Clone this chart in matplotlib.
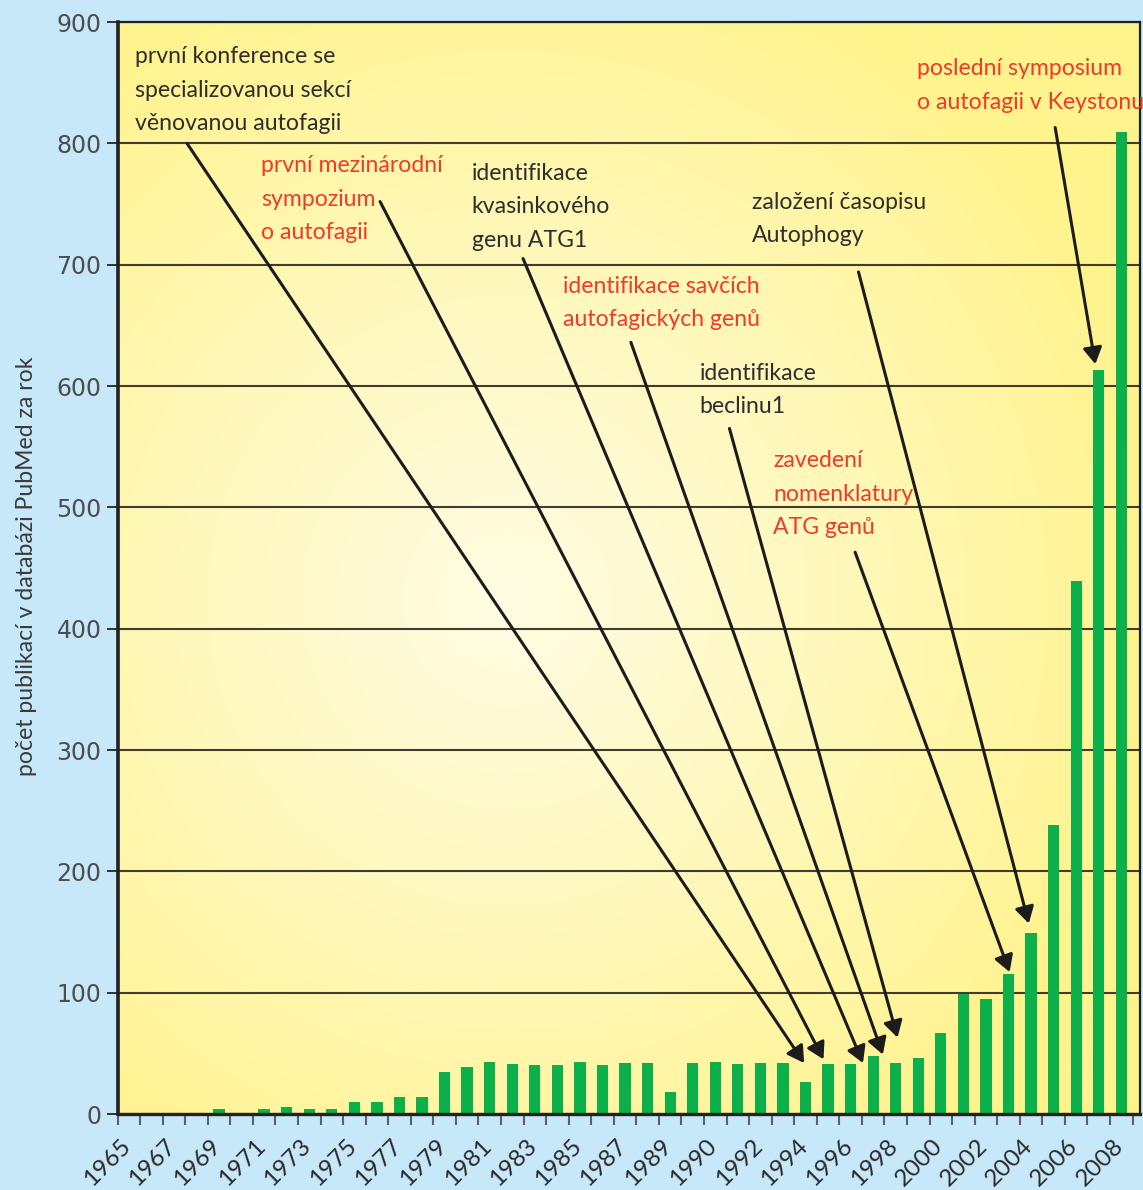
import numpy as np
import matplotlib
matplotlib.use("Agg")
import matplotlib.pyplot as plt
from matplotlib.patches import FancyArrowPatch
from matplotlib.transforms import ScaledTranslation

# Publications per year, one value per category slot on the x axis
counts = [0, 0, 0, 0, 4, 0, 4, 6, 4, 4,
          10, 10, 14, 14, 35, 39, 43, 41, 40, 40,
          43, 40, 42, 42, 18, 42, 43, 41, 42, 42,
          26, 41, 41, 48, 42, 46, 67, 99, 95, 115,
          149, 238, 439, 613, 809]

# Labels shown under every second slot
year_labels = ["1965", "1967", "1969", "1971", "1973", "1975", "1977",
               "1979", "1981", "1983", "1985", "1987", "1989", "1990",
               "1992", "1994", "1996", "1998", "2000", "2002", "2004",
               "2006", "2008"]

y_ticks = [0, 100, 200, 300, 400, 500, 600, 700, 800, 900]

# Milestone notes: text lines, colour, first-baseline position (slot, count)
note_lines = [
    ["první konference se", "specializovanou sekcí", "věnovanou autofagii"],
    ["první mezinárodní", "sympozium", "o autofagii"],
    ["identifikace", "kvasinkového", "genu ATG1"],
    ["identifikace savčích", "autofagických genů"],
    ["identifikace", "beclinu1"],
    ["zavedení", "nomenklatury", "ATG genů"],
    ["založení časopisu", "Autophogy"],
    ["poslední symposium", "o autofagii v Keystonu"],
]
note_red = [False, True, False, True, False, True, False, True]
note_pos = [(0.28, 866), (5.86, 776), (15.21, 770), (19.27, 677),
            (25.3, 605), (28.58, 533), (27.62, 746), (34.93, 856)]
# Arrow from each note (tail) down to the bar it refers to (tip)
arrow_tail = [(2.58, 800), (11.14, 752), (17.48, 705), (22.26, 636),
              (26.63, 565), (32.2, 463), (32.35, 694), (41.07, 813)]
arrow_tip = [(29.94, 42), (30.8, 45), (32.55, 42), (33.43, 49),
             (34.08, 63), (39.05, 117), (39.9, 157), (42.85, 618)]

ylabel = "počet publikací v databázi PubMed za rok"

FONT = ["Lato", "DejaVu Sans"]

W, H = 1143, 1190
fig = plt.figure(figsize=(W / 100, H / 100), dpi=100, facecolor="#c6e8f8")
ax = fig.add_axes([117.5 / W, 1 - 1114 / H, (1140 - 117.5) / W, (1114 - 22) / H])
ax.set_facecolor("none")

# soft radial glow behind the plot
nx = ny = 400
xx, yy = np.meshgrid(np.linspace(0, 1, nx), np.linspace(0, 1, ny))
d = np.sqrt(((xx - 0.38) / 0.65) ** 2 + ((yy - 0.47) / 0.62) ** 2)
t = np.clip(d, 0, 1) ** 1.1
pale = np.array([255, 252, 226]) / 255
deep = np.array([255, 243, 142]) / 255
img = pale * (1 - t[..., None]) + deep * t[..., None]
ax.imshow(img, extent=[0, 1, 0, 1], transform=ax.transAxes, origin="lower",
          aspect="auto", zorder=0, interpolation="bilinear")

slots = np.arange(len(counts))
ax.bar(slots, counts, width=0.5, color="#0cb04a", zorder=2)

ax.set_xlim(-0.5, 44.83)
ax.set_ylim(0, 900)
ax.set_aspect("auto")

# y axis
ax.set_yticks(y_ticks)
ax.set_yticklabels([str(v) for v in y_ticks], fontfamily="DejaVu Sans",
                   fontsize=17, color="#4d4d4d")
ax.tick_params(axis="y", length=7.6, width=1.4, color="#333333", pad=4)
ax.grid(axis="y", color="#403d2f", lw=1.5)
ax.set_axisbelow(True)
for g in ax.get_ygridlines():
    g.set_zorder(1)

# x axis: labels on every second slot, ticks at slot boundaries
ax.set_xticks(slots[::2][:len(year_labels)])
ax.set_xticklabels(year_labels, rotation=45, ha="right", va="top",
                   rotation_mode="anchor", fontfamily=FONT,
                   fontsize=17.5, color="#2a2a2a")
ax.tick_params(axis="x", length=0, pad=15)
shift = ScaledTranslation(-9 / 100, 0, fig.dpi_scale_trans)
for lab in ax.get_xticklabels():
    lab.set_transform(lab.get_transform() + shift)
ax.set_xticks(np.arange(-0.5, 45, 1.0), minor=True)
ax.tick_params(axis="x", which="minor", length=8, width=1.5, color="#56626c")

for side, lw in (("left", 2.6), ("bottom", 2.4), ("top", 1.6), ("right", 1.6)):
    ax.spines[side].set_linewidth(lw)
    ax.spines[side].set_color("#222222")

fig.text(27 / W, 1 - 566 / H, ylabel, rotation=90, ha="center", va="center",
         fontfamily=FONT, fontsize=16.6, color="#3a3a3a")

# milestone notes
for lines, red, (x0, y0) in zip(note_lines, note_red, note_pos):
    for j, line in enumerate(lines):
        ax.annotate(line, xy=(x0, y0), xycoords="data",
                    xytext=(0, -24.1 * j), textcoords="offset points",
                    ha="left", va="baseline", fontsize=16.6,
                    fontfamily=FONT,
                    color="#ee3b2b" if red else "#2e2e2e", zorder=5)

for tail, tip in zip(arrow_tail, arrow_tip):
    ax.add_patch(FancyArrowPatch(
        posA=tail, posB=tip,
        arrowstyle="-|>,head_length=0.55,head_width=0.32",
        mutation_scale=18, lw=2.2, color="#1c1c1c",
        shrinkA=0, shrinkB=0, zorder=4))

fig.savefig("out.png", dpi=100, facecolor=fig.get_facecolor())
